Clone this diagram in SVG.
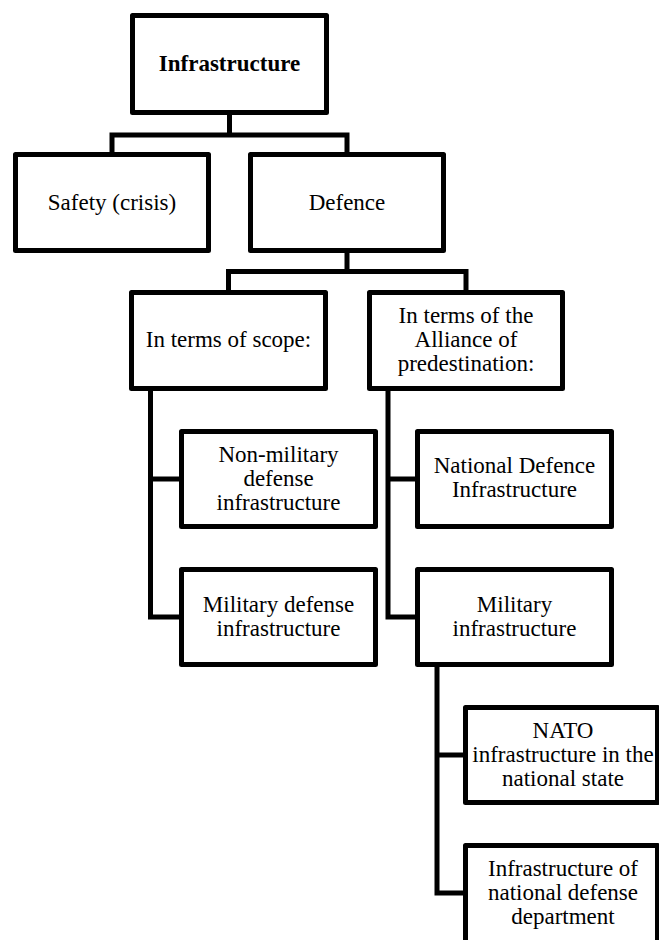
<svg xmlns="http://www.w3.org/2000/svg" width="659" height="940" viewBox="0 0 659 940">
<style>
.box{fill:#fff;stroke:#000;stroke-width:5;stroke-linejoin:round}
.con{fill:none;stroke:#000;stroke-width:5;stroke-linejoin:miter;stroke-linecap:butt}
text{font-family:"Liberation Serif","Times New Roman",serif;font-size:23px;fill:#000;text-anchor:middle}
.b{font-weight:bold}
</style>
<rect x="0" y="0" width="659" height="940" fill="#fff"/>
<g id="connectors">
<path class="con" d="M229.5 115 V135"/>
<path class="con" d="M112 152 V135 H347 V152"/>
<path class="con" d="M347 253 V271.5"/>
<path class="con" d="M228.5 290 V271.5 H466 V290"/>
<path class="con" d="M150.5 391 V617 H181"/>
<path class="con" d="M150.5 479 H181"/>
<path class="con" d="M388 391 V617 H417"/>
<path class="con" d="M388 479 H417"/>
<path class="con" d="M437 667 V893 H465"/>
<path class="con" d="M437 755 H465"/>
</g>
<g id="n-infrastructure">
<rect class="box" x="132.5" y="15.5" width="194" height="97"/>
<text class="b" x="229.5" y="71">Infrastructure</text>
</g>
<g id="n-safety">
<rect class="box" x="15.5" y="154.5" width="193" height="96"/>
<text x="112" y="210">Safety (crisis)</text>
</g>
<g id="n-defence">
<rect class="box" x="250.5" y="154.5" width="193" height="96"/>
<text x="347" y="210">Defence</text>
</g>
<g id="n-scope">
<rect class="box" x="131.5" y="292.5" width="194" height="96"/>
<text x="228.5" y="347">In terms of scope:</text>
</g>
<g id="n-alliance">
<rect class="box" x="369.5" y="292.5" width="193" height="96"/>
<text x="466" y="323">In terms of the</text>
<text x="466" y="347">Alliance of</text>
<text x="466" y="371">predestination:</text>
</g>
<g id="n-nonmilitary">
<rect class="box" x="181.5" y="431.5" width="194" height="95"/>
<text x="278.5" y="462">Non-military</text>
<text x="278.5" y="486">defense</text>
<text x="278.5" y="510">infrastructure</text>
</g>
<g id="n-national">
<rect class="box" x="417.5" y="431.5" width="194" height="95"/>
<text x="514.5" y="473">National Defence</text>
<text x="514.5" y="497">Infrastructure</text>
</g>
<g id="n-militarydefense">
<rect class="box" x="181.5" y="569.5" width="194" height="95"/>
<text x="278.5" y="612">Military defense</text>
<text x="278.5" y="636">infrastructure</text>
</g>
<g id="n-militaryinfra">
<rect class="box" x="417.5" y="569.5" width="194" height="95"/>
<text x="514.5" y="612">Military</text>
<text x="514.5" y="636">infrastructure</text>
</g>
<g id="n-nato">
<rect class="box" x="465.5" y="707.5" width="192" height="95"/>
<text x="563" y="738">NATO</text>
<text x="563" y="762">infrastructure in the</text>
<text x="563" y="786">national state</text>
</g>
<g id="n-department">
<rect class="box" x="465.5" y="845.5" width="192" height="100"/>
<text x="563" y="876">Infrastructure of</text>
<text x="563" y="900">national defense</text>
<text x="563" y="924">department</text>
</g>
</svg>
